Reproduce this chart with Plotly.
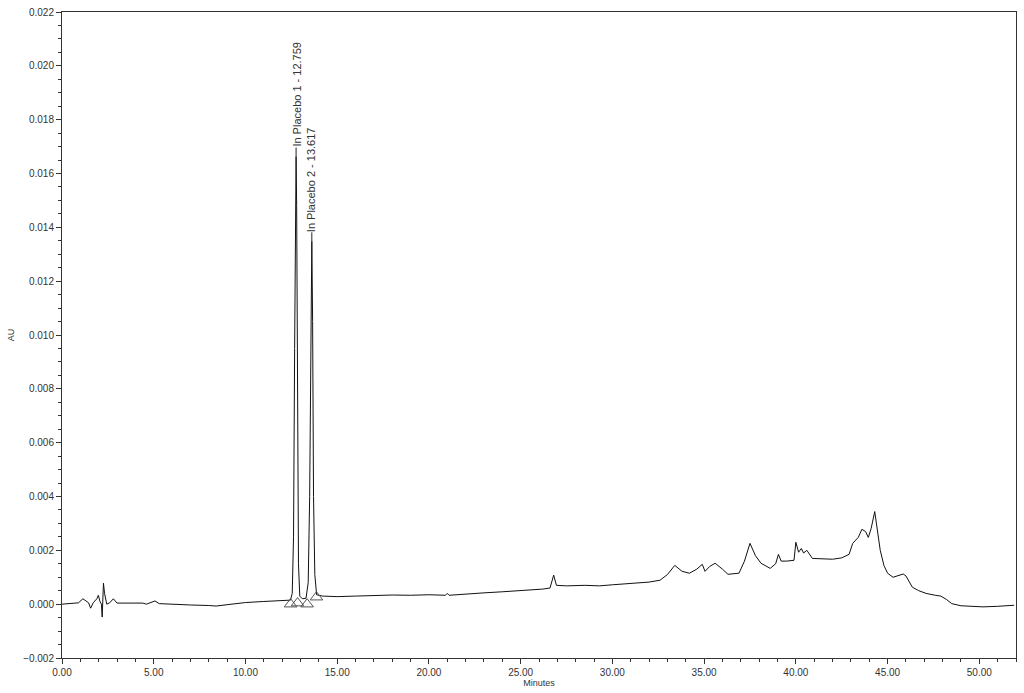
import plotly.graph_objects as go

# Chromatogram trace (time in minutes, absorbance in AU)
times = [0.0, 0.5, 0.9, 1.14, 1.3, 1.45, 1.56, 1.7, 1.9, 1.98, 2.07, 2.15, 2.19, 2.22, 2.26, 2.32, 2.44,
         2.6, 2.8, 3.0, 3.5, 4.0, 4.4, 4.6, 5.07, 5.3, 6.0, 7.0, 8.0, 8.4, 9.0, 10.0, 11.0, 12.0, 12.45,
         12.55, 12.62, 12.68, 12.73, 12.759, 12.79, 12.84, 12.89, 12.96, 13.1, 13.3, 13.42, 13.5, 13.56,
         13.617, 13.66, 13.71, 13.78, 13.88, 14.2, 15.0, 16.0, 17.0, 18.0, 19.0, 20.0, 20.9, 21.0, 21.1,
         22.0, 23.0, 24.0, 25.0, 26.2, 26.6, 26.8, 26.95, 27.5, 28.5, 29.3, 30.0, 31.0, 32.0, 32.6, 33.0,
         33.4, 33.8, 34.2, 34.6, 34.9, 35.05, 35.3, 35.6, 36.0, 36.3, 36.9, 37.2, 37.5, 37.8, 38.1, 38.6,
         38.9, 39.05, 39.2, 39.5, 39.9, 40.0, 40.15, 40.3, 40.42, 40.6, 40.9, 41.5, 42.0, 42.5, 42.9, 43.1,
         43.4, 43.6, 43.8, 43.95, 44.1, 44.3, 44.45, 44.6, 44.8, 45.0, 45.3, 45.6, 45.85, 46.0, 46.35,
         46.7, 47.1, 47.6, 47.9, 48.2, 48.5, 49.0, 50.2, 51.0, 51.9]
absorbance = [0.0, 0.00002, 0.00005, 0.0002, 0.00012, 0.00005, -0.00015, 0.00005, 0.0002, 0.00033, 0.0001,
              0.0, -0.00048, 0.0003, 0.00078, 0.0004, 0.0, 0.00005, 0.0002, 0.00004, 0.00004, 0.00002,
              0.00004, 0.0, 0.00012, 0.00002, -0.00001, -0.00003, -0.00005, -0.00007, -0.00002, 0.00006,
              0.0001, 0.00012, 0.00015, 0.0004, 0.0025, 0.0095, 0.0155, 0.01663, 0.0148, 0.007, 0.0015,
              0.0003, 0.0002, 0.00022, 0.0008, 0.004, 0.0105, 0.01348, 0.0105, 0.004, 0.0011, 0.00035,
              0.0003, 0.00028, 0.0003, 0.00032, 0.00034, 0.00033, 0.00035, 0.00033, 0.0004, 0.00033,
              0.00038, 0.00042, 0.00046, 0.0005, 0.00056, 0.0006, 0.00108, 0.0007, 0.00068, 0.0007,
              0.00068, 0.00072, 0.00076, 0.00082, 0.00089, 0.0011, 0.00144, 0.00122, 0.00115, 0.0013,
              0.00148, 0.00122, 0.0014, 0.00152, 0.0013, 0.00111, 0.00115, 0.0016, 0.00226, 0.0018,
              0.00152, 0.00133, 0.0015, 0.00185, 0.0016, 0.0016, 0.00163, 0.0023, 0.00193, 0.00207,
              0.0019, 0.002, 0.0017, 0.00167, 0.00167, 0.00172, 0.00185, 0.00226, 0.00248, 0.00278,
              0.0027, 0.00248, 0.0028, 0.00344, 0.0027, 0.002, 0.00144, 0.00115, 0.001, 0.00108, 0.00112,
              0.00105, 0.00063, 0.0005, 0.0004, 0.00033, 0.0003, 0.00018, 0.00002, -0.00006, -0.0001,
              -0.00008, -0.00004]

# Named peaks
peak_names = ["In Placebo 1 - 12.759", "In Placebo 2 - 13.617"]
peak_times = [12.759, 13.617]
peak_heights = [0.01663, 0.01348]

# Integration boundary markers
marker_times = [12.46, 12.84, 13.36, 13.87]
marker_values = [0.0, 0.00004, 0.0, 0.00026]

# Axis ticks
x_ticks = [0, 5, 10, 15, 20, 25, 30, 35, 40, 45, 50]
y_ticks = [-0.002, 0.0, 0.002, 0.004, 0.006, 0.008, 0.010, 0.012, 0.014, 0.016, 0.018, 0.020, 0.022]

FONT = "Liberation Sans, Arial, sans-serif"

fig = go.Figure()
fig.add_trace(go.Scatter(x=times, y=absorbance, mode="lines",
                         line=dict(color="#111111", width=1), showlegend=False, hoverinfo="skip"))
fig.add_trace(go.Scatter(x=marker_times, y=marker_values, mode="markers",
                         marker=dict(symbol="triangle-up-open", size=11, color="#555555",
                                     line=dict(width=1, color="#555555")),
                         showlegend=False, hoverinfo="skip"))

for name, t, h in zip(peak_names, peak_times, peak_heights):
    fig.add_annotation(x=t, y=h, text=name, textangle=-90, showarrow=True, arrowhead=0,
                       arrowwidth=1, arrowcolor="#222222", ax=0, ay=-62, standoff=0,
                       font=dict(family=FONT, size=11, color="#333333"), borderpad=0)

fig.update_layout(
    width=1024, height=693,
    margin=dict(l=62, r=8, t=12, b=35),
    paper_bgcolor="white", plot_bgcolor="white",
    font=dict(family=FONT, size=10, color="#333333"),
    xaxis=dict(range=[0, 52], tickvals=x_ticks, tickformat=".2f", ticks="outside", ticklen=5,
               tickcolor="#333333", showline=True, linecolor="#333333", linewidth=1, mirror=True,
               showgrid=False, zeroline=False, automargin=False,
               minor=dict(dtick=1, ticks="outside", ticklen=3, tickcolor="#333333"),
               title=dict(text="Minutes", font=dict(size=9), standoff=1),
               tickfont=dict(size=10)),
    yaxis=dict(range=[-0.002, 0.022], tickvals=y_ticks, tickformat=".3f", ticks="outside", ticklen=5,
               tickcolor="#333333", showline=True, linecolor="#333333", linewidth=1, mirror=True,
               showgrid=False, zeroline=False, automargin=False,
               minor=dict(dtick=0.0005, ticks="outside", ticklen=3, tickcolor="#333333"),
               title=dict(text="AU", font=dict(size=9), standoff=6),
               tickfont=dict(size=10)),
)

fig.write_html("out.html", config={"displayModeBar": False},
               post_script="document.body.style.margin='0';document.body.style.overflow='hidden';")
